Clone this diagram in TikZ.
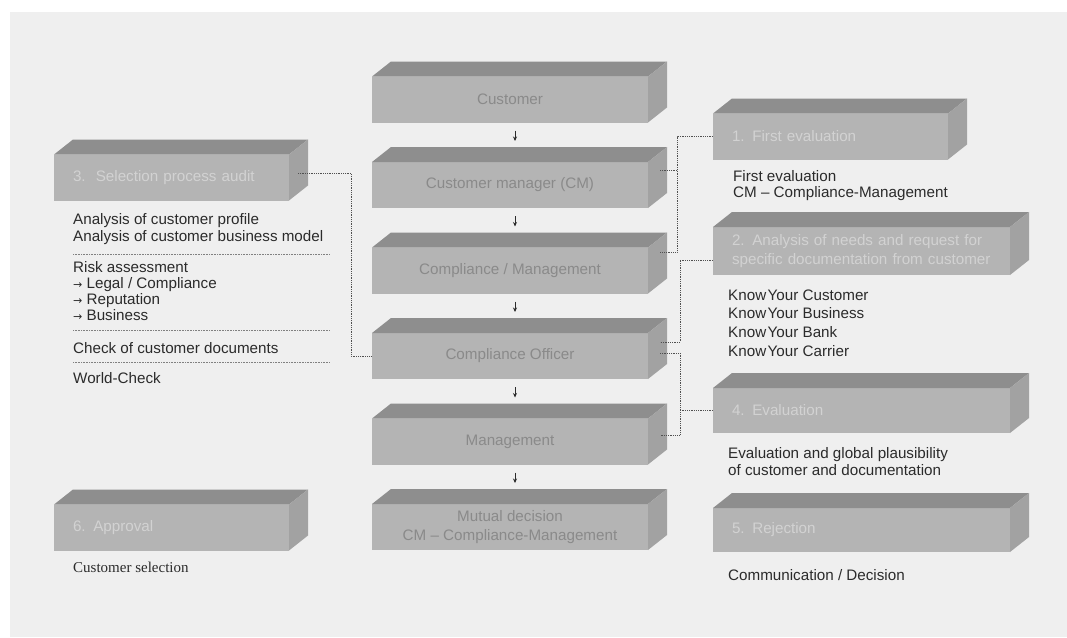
\documentclass[tikz,border=0pt]{standalone}
\usepackage{fontspec}
\setmainfont{Liberation Sans}
\newfontfamily\arrfont{DejaVu Sans}
\newfontfamily\serifface{Liberation Serif}
\usetikzlibrary{calc,arrows.meta}
\definecolor{paper}{HTML}{EFEFEF}
\definecolor{frontc}{HTML}{B4B4B4}
\definecolor{topc}{HTML}{8E8E8E}
\definecolor{sidec}{HTML}{A2A2A2}
\definecolor{ctext}{HTML}{8A8A8A}
\definecolor{ltext}{HTML}{D2D2D2}
\definecolor{bodyc}{HTML}{2B2B2B}
\definecolor{lnc}{HTML}{505050}
\newcommand\bodyfont{\fontsize{15.2}{19}\selectfont}
\newcommand\ra{{\arrfont\fontsize{11}{11}\selectfont →}\ }
\newcommand\extrude[1]{%
  \fill[topc] (#1.north west) -- ++(19,-15) -- ($(#1.north east)+(19,-15)$) -- (#1.north east) -- cycle;
  \fill[sidec] (#1.north east) -- ++(19,-15) -- ($(#1.south east)+(19,-15)$) -- (#1.south east) -- cycle;}
\tikzset{
  face/.style={draw=none, fill=frontc, outer sep=0pt},
  cbox/.style={face, inner sep=0pt, minimum width=276pt, minimum height=46pt, text=ctext, font=\bodyfont, align=center},
  sbox/.style={face, inner ysep=0pt, inner xsep=19pt, minimum height=46pt, text=ltext, font=\bodyfont, align=left, anchor=west},
  txt/.style={text=bodyc, font=\bodyfont, inner sep=0pt, anchor=base west},
  conn/.style={lnc, densely dotted, line width=0.8pt},
  sepline/.style={gray, densely dotted, line width=0.6pt},
  tip/.style={-{Stealth[length=4.5pt,width=4pt]}, line width=0.6pt, bodyc},
}
\begin{document}
\begin{tikzpicture}[x=1pt,y=-1pt]
\useasboundingbox (0,0) rectangle (1067,637);
\fill[white] (0,0) rectangle (1067,637);
\fill[paper] (10,12) rectangle (1067,637);

% centre column
\node[cbox] (c1) at (510,99.5) {Customer};
\node[cbox] (c2) at (510,185) {Customer manager (CM)};
\node[cbox] (c3) at (510,270.5) {Compliance / Management};
\node[cbox] (c4) at (510,356) {Compliance Officer};
\node[cbox] (c5) at (510,441.5) {Management};
\node[cbox] (c6) at (510,527) {Mutual decision\\CM -- Compliance-Management};
\foreach \n in {c1,c2,c3,c4,c5,c6} {\extrude{\n}}

% left boxes
\node[sbox, text width=197pt] (sel) at (54,177.5) {3.\ \ Selection process audit};
\node[sbox, text width=197pt] (app) at (54,527.5) {6. Approval};
\extrude{sel}\extrude{app}

% right boxes
\node[sbox, text width=197pt] (r1) at (713,136.5) {1. First evaluation};
\node[sbox, text width=259pt, minimum height=48pt] (r2) at (713,251) {2. Analysis of needs and request for\\specific documentation from customer};
\node[sbox, text width=259pt, minimum height=45pt] (r4) at (713,410.5) {4. Evaluation};
\node[sbox, text width=259pt, minimum height=44pt] (r5) at (713,530) {5. Rejection};
\extrude{r1}\extrude{r2}\extrude{r4}\extrude{r5}

% small arrows between centre boxes
\draw[tip] ($(c1.south)+(5,8)$) -- ($(c2.north)+(5,-21)$);
\draw[tip] ($(c2.south)+(5,8)$) -- ($(c3.north)+(5,-21)$);
\draw[tip] ($(c3.south)+(5,8)$) -- ($(c4.north)+(5,-21)$);
\draw[tip] ($(c4.south)+(5,8)$) -- ($(c5.north)+(5,-21)$);
\draw[tip] ($(c5.south)+(5,8)$) -- ($(c6.north)+(5,-21)$);

% connectors
\draw[conn] ($(sel.east)+(9,-4.5)$) -- ++(53,0) |- (c4.west);
\draw[conn] (r1.west) -| ($(c3.east)+(29,-18.5)$) -- ++(-17,0);
\draw[conn] ($(c2.east)+(12,-15)$) -- ++(17,0);
\draw[conn] ($(r2.west)+(0,9)$) -| ($(c4.east)+(32,-14)$) -- ++(-20,0);
\draw[conn] ($(c4.east)+(12,-3)$) -- ++(20,0) |- ($(c5.east)+(12,-6.5)$);
\draw[conn] (r4.west) -- ++(-33,0);

% left texts
\node[txt] (a1) at (73,224) {Analysis of customer profile};
\node[txt] (a2) at (73,241) {Analysis of customer business model};
\node[txt] (a3) at (73,272) {Risk assessment};
\node[txt] (a4) at (73,288) {\ra Legal / Compliance};
\node[txt] (a5) at (73,304) {\ra Reputation};
\node[txt] (a6) at (73,320) {\ra Business};
\node[txt] (a7) at (73,353) {Check of customer documents};
\node[txt] (a8) at (73,383) {World-Check};
\draw[sepline] (73,254) -- (330,254);
\draw[sepline] (73,330) -- (330,330);
\draw[sepline] (73,362) -- (330,362);
\node[txt, font=\serifface\fontsize{15}{18}\selectfont] (a9) at (73,572) {Customer selection};

% right texts
\node[txt] (b1) at (733,181) {First evaluation};
\node[txt] (b2) at (733,197) {CM -- Compliance-Management};
\node[txt] (b3) at (728,300) {Know\hspace{1.5pt}Your Customer};
\node[txt] (b4) at (728,318) {Know\hspace{1.5pt}Your Business};
\node[txt] (b5) at (728,337) {Know\hspace{1.5pt}Your Bank};
\node[txt] (b6) at (728,356) {Know\hspace{1.5pt}Your Carrier};
\node[txt] (b7) at (728,458) {Evaluation and global plausibility};
\node[txt] (b8) at (728,475) {of customer and documentation};
\node[txt] (b9) at (728,580) {Communication / Decision};
\end{tikzpicture}
\end{document}
